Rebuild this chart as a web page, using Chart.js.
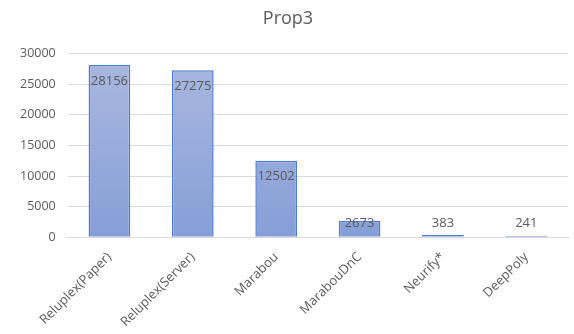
<!DOCTYPE html>
<html lang="en">
<head>
  <meta charset="UTF-8">
  <title>Prop3</title>
  <script src="https://cdn.jsdelivr.net/npm/chart.js"></script>
  <style>
    html, body { margin: 0; padding: 0; background: #fff; }
    #wrap { width: 574px; height: 334px; }
  </style>
</head>
<body>
  <div id="wrap"><canvas id="chart" width="574" height="334"></canvas></div>

  <script>
    const categories = ['Reluplex(Paper)', 'Reluplex(Server)', 'Marabou', 'MarabouDnC', 'Neurify*', 'DeepPoly'];
    const times = [28156, 27275, 12502, 2673, 383, 241];
    const yTicks = [0, 5000, 10000, 15000, 20000, 25000, 30000];

    const grey = '#595959';

    // value labels: inside the top of the bar, pushed up when the bar is short
    const valueLabels = {
      id: 'valueLabels',
      afterDatasetsDraw(chart) {
        const ctx = chart.ctx;
        const meta = chart.getDatasetMeta(0);
        const base = chart.scales.y.getPixelForValue(0);
        ctx.save();
        ctx.font = '13px "Open Sans", sans-serif';
        ctx.fillStyle = grey;
        ctx.textAlign = 'center';
        ctx.textBaseline = 'middle';
        meta.data.forEach((bar, i) => {
          const y = Math.min(bar.y + 16, base - 14);
          ctx.fillText(times[i], bar.x, y);
        });
        ctx.restore();
      }
    };

    const ctx = document.getElementById('chart').getContext('2d');
    new Chart(ctx, {
      type: 'bar',
      data: {
        labels: categories,
        datasets: [{
          data: times,
          backgroundColor(c) {
            const area = c.chart.chartArea;
            if (!area) return '#9aaddb';
            const g = c.chart.ctx.createLinearGradient(0, area.top, 0, area.bottom);
            g.addColorStop(0, '#aab8df');
            g.addColorStop(1, '#869fd8');
            return g;
          },
          borderColor: '#4f7bd0',
          borderWidth: 1.5,
          categoryPercentage: 1,
          barPercentage: 0.5
        }]
      },
      options: {
        responsive: false,
        animation: false,
        layout: { padding: { left: 8, right: 6, top: 4, bottom: 0 } },
        plugins: {
          legend: { display: false },
          tooltip: { enabled: false },
          title: {
            display: true,
            text: 'Prop3',
            color: grey,
            font: { family: '"Open Sans", sans-serif', size: 18, weight: 'normal' },
            padding: { top: 4, bottom: 24 }
          }
        },
        scales: {
          x: {
            grid: { display: false },
            border: { color: '#d9d9d9' },
            ticks: {
              color: grey,
              font: { family: '"Open Sans", sans-serif', size: 13 },
              minRotation: 45,
              maxRotation: 45,
              padding: 4
            }
          },
          y: {
            min: 0,
            max: 30000,
            afterBuildTicks(axis) { axis.ticks = yTicks.map(v => ({ value: v })); },
            grid: { color: '#d9d9d9', drawTicks: false },
            border: { display: false },
            ticks: {
              color: grey,
              font: { family: '"Open Sans", sans-serif', size: 12.5 },
              padding: 12,
              callback: v => String(v)
            }
          }
        }
      },
      plugins: [valueLabels]
    });
  </script>
</body>
</html>
